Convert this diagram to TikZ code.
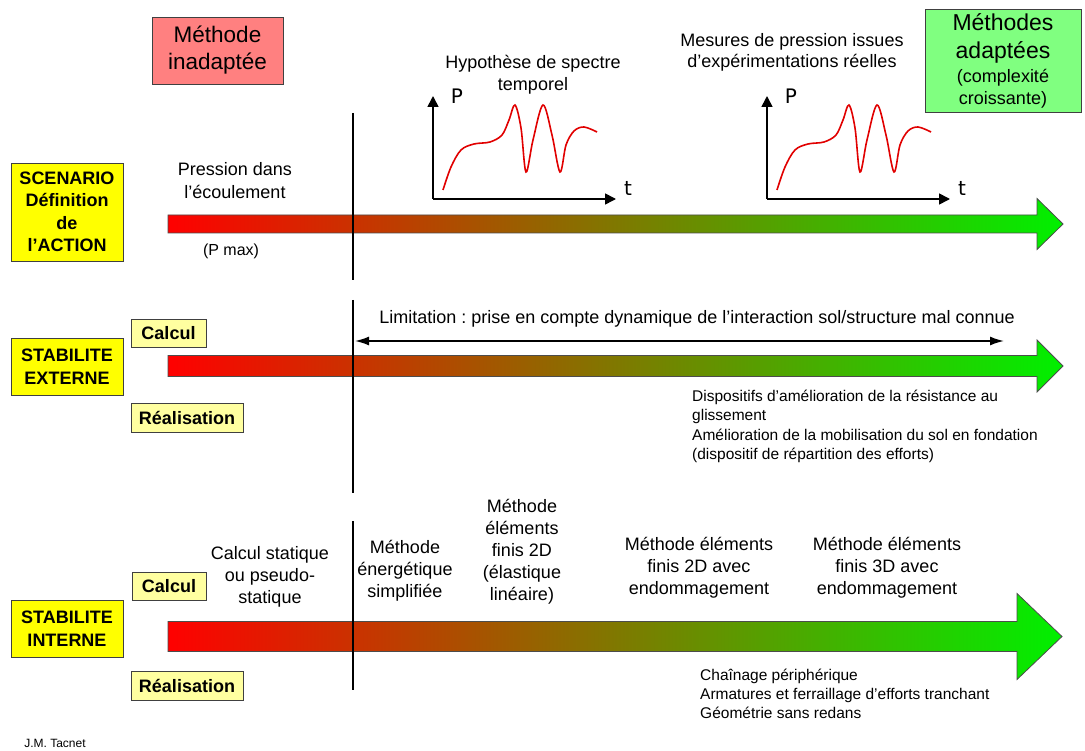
\documentclass[tikz,border=0pt]{standalone}
\usepackage{fontspec}
\setmainfont{Liberation Sans}
\newfontfamily\axisfont{DejaVu Sans}
\usetikzlibrary{arrows.meta}
\frenchspacing

\definecolor{rowyellow}{RGB}{255,255,0}
\definecolor{paleyellow}{RGB}{255,255,160}
\definecolor{badred}{RGB}{255,128,128}
\definecolor{goodgreen}{RGB}{128,255,128}
\definecolor{arrowgreen}{RGB}{0,240,0}
\definecolor{curvered}{RGB}{225,0,0}

\tikzset{
  rowbox/.style={draw=black!75, fill=rowyellow, align=center, inner sep=0pt,
    font=\fontsize{18}{22.5}\selectfont\bfseries},
  subbox/.style={draw=black!75, fill=paleyellow, inner sep=0pt,
    font=\fontsize{18}{22}\selectfont\bfseries},
  txt/.style={inner sep=0pt, align=center, font=\fontsize{18}{22}\selectfont},
  smalltxt/.style={inner sep=0pt, align=left, font=\fontsize{15.5}{19.5}\selectfont},
  axislabel/.style={inner sep=0pt, font=\axisfont\fontsize{20}{20}\selectfont},
  gradarrow/.style={draw=black!70, line width=0.8pt, left color=red, right color=arrowgreen},
  sepline/.style={line width=1.6pt},
  axis/.style={line width=1.6pt, -{Triangle[length=11pt,width=11pt]}},
}

\begin{document}
\begin{tikzpicture}[x=1pt,y=-1pt]

    \path[fill=white] (0,0) rectangle (1085,751);

    % methodes
    \node[draw=black!75, fill=badred, minimum width=131, minimum height=67, align=center,
      font=\fontsize{22.5}{27}\selectfont] (inad) at (217.5,50.5) {Méthode\\inadaptée};
    \node[draw=black!75, fill=goodgreen, minimum width=156, minimum height=103] (adapt) at (1003,60.5) {};
    \node[txt, font=\fontsize{23}{28}\selectfont] (adapttxt) at (1003,38) {Méthodes\\adaptées};
    \node[txt] (adaptsub) at (1003,88.5) {(complexité\\croissante)};

    % fleches
    \foreach \yc/\bh/\hh/\hb/\tp in {224/9/25.5/1037/1063, 366/10.5/26/1037/1063, 636.5/15/43/1017/1062}
      \draw[gradarrow] (168,\yc-\bh) -- (\hb,\yc-\bh) -- (\hb,\yc-\hh) -- (\tp,\yc)
        -- (\hb,\yc+\hh) -- (\hb,\yc+\bh) -- (168,\yc+\bh) -- cycle;

    \draw[sepline] (353,113) -- (353,280);
    \draw[sepline] (353,300) -- (353,493);
    \draw[sepline] (353,521) -- (353,690);

    % scenario
    \node[rowbox, minimum width=112, minimum height=98] (scen) at (67,212)
      {SCENARIO\\Définition\\de\\l’ACTION};
    \node[txt, font=\fontsize{18}{23}\selectfont] (pression) at (235,181) {Pression dans\\l’écoulement};
    \node[txt, font=\fontsize{16}{19}\selectfont] (pmax) at (231,251) {(P max)};

    \foreach \dx/\g in {0/a,334/b} {
      \begin{scope}[shift={(\dx,0)}]
        \coordinate (orig\g) at (433,199);
        \coordinate (ptop\g) at (433,96);
        \coordinate (tend\g) at (616,199);
        \draw[axis] (orig\g) -- (ptop\g);
        \draw[axis] (orig\g) -- (tend\g);
        \node[axislabel] (P\g) at (457,96) {P};
        \node[axislabel] (t\g) at (628,188) {t};
        \draw[curvered, line width=1.6pt] plot[smooth, tension=0.55] coordinates
          {(443,190) (451,167) (461,150) (474,144) (490,142) (502,135) (509,120) (515,105)
           (521,128) (526,172) (533,140) (543,105) (552,135) (560,172) (566,145) (574,131)
           (584,127) (597,132)};
      \end{scope}
    }
    \node[txt] (hypo) at (533,75) {Hypothèse de spectre\\temporel};
    \node[txt, font=\fontsize{18}{21}\selectfont] (mesures) at (792,52.5) {Mesures de pression issues\\d’expérimentations réelles};

    % stabilite externe
    \node[rowbox, minimum width=112, minimum height=57] (sext) at (67,366.5) {STABILITE\\EXTERNE};
    \node[subbox, minimum width=75, minimum height=28] (cext) at (168.5,333) {Calcul};
    \node[subbox, minimum width=112, minimum height=29] (rext) at (187,417.5) {Réalisation};

    \coordinate (limL) at (355,341);
    \coordinate (limR) at (1004,341);
    \draw[line width=1.6pt, {Latex[length=14pt,width=9pt]}-{Latex[length=14pt,width=9pt]}] (limL) -- (limR);
    \node[txt] (limit) at (697,319) {Limitation : prise en compte dynamique de l’interaction sol/structure mal connue};

    \node[smalltxt, anchor=west] (dispo) at (692,426.5)
      {Dispositifs d’amélioration de la résistance au\\glissement\\Amélioration de la mobilisation du sol en fondation\\(dispositif de répartition des efforts)};

    % stabilite interne
    \node[rowbox, minimum width=112, minimum height=57] (sint) at (67,628.5) {STABILITE\\INTERNE};
    \node[subbox, minimum width=74, minimum height=28] (cint) at (169,586) {Calcul};
    \node[subbox, minimum width=112, minimum height=29] (rint) at (187,685.5) {Réalisation};

    \node[txt] (statique) at (270,577) {Calcul statique\\ou pseudo-\\statique};
    \node[txt] (energ) at (405,571) {Méthode\\énergétique\\simplifiée};
    \node[txt] (ef2d) at (522,552) {Méthode\\éléments\\finis 2D\\(élastique\\linéaire)};
    \node[txt] (ef2dend) at (699,568) {Méthode éléments\\finis 2D avec\\endommagement};
    \node[txt] (ef3dend) at (887,568) {Méthode éléments\\finis 3D avec\\endommagement};

    \node[smalltxt, anchor=west, font=\fontsize{15.5}{19}\selectfont] (chain) at (700,694)
      {Chaînage périphérique\\Armatures et ferraillage d’efforts tranchant\\Géométrie sans redans};

    \node[inner sep=0pt, font=\fontsize{12}{14}\selectfont] (auteur) at (55,743) {J.M. Tacnet};

\end{tikzpicture}
\end{document}
